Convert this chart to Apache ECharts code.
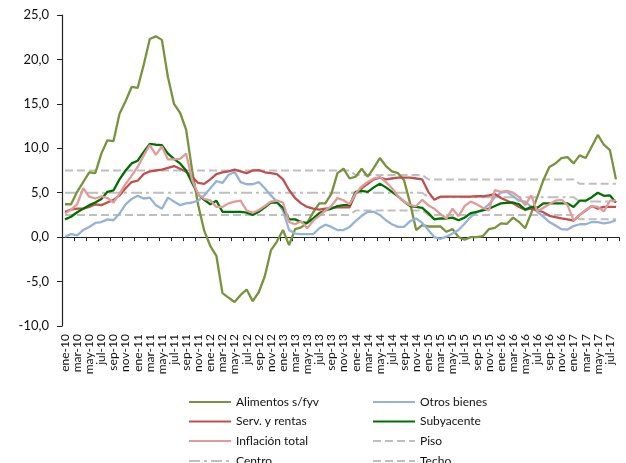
<!DOCTYPE html>
<html>
<head>
<meta charset="utf-8">
<script src="https://cdn.jsdelivr.net/npm/echarts@6/dist/echarts.min.js"></script>
<style>
html,body{margin:0;padding:0;background:#fff;}
#c{width:626px;height:463px;}
</style>
</head>
<body>
<div id="c"></div>
<script>
var monthNames = ['ene','feb','mar','abr','may','jun','jul','ago','sep','oct','nov','dic'];
var years = ['10','11','12','13','14','15','16','17'];
var lastMonthOf2017 = 8; // ene-17 .. ago-17
var categories = [];
years.forEach(function(y, yi){
  var n = (yi === years.length - 1) ? lastMonthOf2017 : 12;
  for (var m = 0; m < n; m++) categories.push(monthNames[m] + '-' + y);
});

var alimentos = [3.7,3.7,5.1,6.2,7.3,7.2,9.4,10.9,10.8,13.9,15.3,16.9,16.8,19.4,22.3,22.6,22.2,18.0,15.0,14.0,12.1,7.5,3.6,0.7,-1.0,-2.1,-6.3,-6.8,-7.3,-6.5,-5.9,-7.2,-6.2,-4.4,-1.5,-0.5,0.8,-0.9,0.9,1.1,1.6,2.8,3.8,3.8,4.9,7.2,7.7,6.6,6.8,7.7,6.8,7.8,8.9,8.0,7.4,7.2,6.4,3.8,0.8,1.35,1.2,1.2,1.2,0.6,0.9,0.0,-0.3,0.0,0.0,0.1,0.9,1.05,1.55,1.5,2.2,1.7,1.0,2.7,4.5,6.4,7.9,8.3,8.9,9.0,8.3,9.2,8.9,10.2,11.5,10.4,9.8,6.5];
var otrosBienes = [0.05,0.35,0.2,0.8,1.15,1.6,1.7,2.0,1.9,2.65,3.7,4.3,4.65,4.35,4.45,3.6,3.2,4.45,4.0,3.6,3.8,3.9,4.1,4.7,5.5,6.3,6.1,7.0,7.35,6.2,5.95,5.95,6.2,5.5,4.7,4.0,3.0,0.8,0.4,0.35,0.35,0.35,1.0,1.4,1.15,0.8,0.8,1.15,1.8,2.4,2.85,2.85,2.5,1.9,1.45,1.15,1.15,1.8,2.1,1.6,0.8,0.0,-0.2,0.05,0.4,0.8,1.5,2.3,2.8,3.1,3.7,4.5,5.0,5.1,4.6,4.1,4.0,3.4,2.85,2.3,1.7,1.3,0.9,0.85,1.25,1.45,1.45,1.7,1.7,1.55,1.65,1.9];
var servRentas = [2.85,3.1,3.2,3.2,3.4,3.7,3.6,3.9,4.2,4.7,5.5,6.2,6.35,7.1,7.4,7.5,7.6,7.8,8.0,7.7,7.35,6.8,6.1,6.0,6.5,7.1,7.3,7.4,7.6,7.4,7.2,7.5,7.55,7.3,7.2,7.1,6.5,5.3,4.4,3.8,3.4,3.2,3.1,3.2,3.3,3.35,3.35,3.35,4.9,5.5,6.0,6.5,6.7,6.5,6.6,6.7,6.7,6.7,6.6,6.5,5.1,4.2,4.55,4.55,4.55,4.55,4.55,4.55,4.6,4.6,4.7,4.85,4.4,4.1,3.8,3.4,3.1,3.2,3.05,2.8,2.4,2.25,2.1,2.0,1.85,2.5,3.0,3.5,3.2,3.4,3.4,3.4];
var subyacente = [2.0,2.3,2.8,3.2,3.6,3.9,4.3,5.1,5.25,6.5,7.5,8.3,8.6,9.6,10.5,10.4,10.35,9.4,8.8,8.3,7.5,6.1,4.8,4.2,3.7,4.1,2.85,2.85,2.85,2.85,2.75,2.5,2.85,3.35,3.9,3.9,3.3,2.0,2.0,1.7,1.6,2.1,2.7,3.0,3.2,3.5,3.6,3.6,5.1,5.2,5.1,5.6,6.0,5.6,5.1,4.6,4.0,3.5,3.4,3.3,2.7,2.0,2.1,2.1,2.2,1.9,2.2,2.7,2.85,3.0,3.2,3.5,3.8,3.85,3.9,3.7,3.1,3.4,3.3,3.8,3.8,3.8,3.8,3.8,3.4,4.1,4.1,4.5,5.0,4.65,4.7,3.9];
var inflacionTotal = [2.65,3.1,3.7,5.5,4.55,4.35,4.6,4.4,3.9,4.9,6.0,6.9,7.9,9.2,10.35,9.25,10.2,8.75,8.75,8.8,9.4,6.4,4.8,4.3,4.15,3.4,3.4,3.8,4.0,4.1,3.0,2.75,3.05,3.5,4.0,4.1,3.9,1.7,1.45,1.8,1.0,1.85,2.4,3.0,3.5,4.4,4.15,3.7,4.9,5.7,6.2,6.6,6.75,6.2,5.5,4.6,4.0,3.6,3.5,4.2,3.6,3.2,2.6,2.1,3.2,2.35,3.5,4.0,3.7,3.3,3.0,5.3,5.1,5.2,5.0,4.5,3.6,4.7,2.9,3.3,3.7,4.1,4.2,3.6,1.9,2.5,3.05,3.5,3.4,2.9,4.1,4.1];

// Target band: values per period (2010-2013, 2014, 2015-2016, 2017)
var periodMonths = [48, 12, 25, 7];
var pisoByPeriod = [2.5, 3.0, 2.5, 2.0];
var centroByPeriod = [5.0, 5.0, 4.5, 4.0];
var techoByPeriod = [7.5, 7.0, 6.5, 6.0];
function expand(vals){
  var out = [];
  periodMonths.forEach(function(n, k){ for (var j = 0; j < n; j++) out.push(vals[k]); });
  return out;
}
var piso = expand(pisoByPeriod);
var centro = expand(centroByPeriod);
var techo = expand(techoByPeriod);

var yTicks = {min: -10, max: 25, interval: 5};

var FONT = 'Lato';
function mainLine(name, data, color){
  return {name: name, type: 'line', data: data, symbol: 'none', z: 3,
    lineStyle: {color: color, width: 2.3}, itemStyle: {color: color}};
}
function refLine(name, data, dash){
  return {name: name, type: 'line', data: data, symbol: 'none', z: 2,
    lineStyle: {color: '#BFBFBF', width: 2, type: dash}, itemStyle: {color: '#BFBFBF'}};
}

var legendText = {fontFamily: FONT, fontSize: 12, color: '#111'};
var legendLayout = [
  ['Alimentos s/fyv', 188, 396], ['Otros bienes', 372, 396],
  ['Serv. y rentas', 188, 415.5], ['Subyacente', 372, 415.5],
  ['Inflación total', 188, 435], ['Piso', 372, 435],
  ['Centro', 188, 455], ['Techo', 372, 455]
];
var legends = legendLayout.map(function(L){
  return {orient: 'horizontal', left: L[1], top: L[2], itemWidth: 42, itemHeight: 14,
    selectedMode: false, textStyle: legendText, itemStyle: {opacity: 0},
    padding: 0, data: [L[0]]};
});

var chart = echarts.init(document.getElementById('c'), null, {renderer: 'canvas'});
chart.setOption({
  animation: false,
  backgroundColor: '#fff',
  grid: {left: 62, right: 7, top: 15, bottom: 137, containLabel: false},
  legend: legends,
  xAxis: [
    {type: 'category', data: categories, position: 'bottom', boundaryGap: true,
     axisLine: {show: false, onZero: false}, axisTick: {show: false},
     axisLabel: {interval: 1, rotate: 90, margin: 8, fontFamily: FONT, fontSize: 12, color: '#111'},
     splitLine: {show: false}},
    {type: 'category', data: categories, position: 'bottom', boundaryGap: true,
     axisLine: {show: true, onZero: true, lineStyle: {color: '#222', width: 1.2}},
     axisTick: {show: true, interval: 1, length: 4, lineStyle: {color: '#222', width: 1}},
     axisLabel: {show: false}, splitLine: {show: false}}
  ],
  yAxis: {type: 'value', min: yTicks.min, max: yTicks.max, interval: yTicks.interval,
    axisLine: {show: true, lineStyle: {color: '#222', width: 1.2}},
    axisTick: {show: true, length: 5, lineStyle: {color: '#222'}},
    splitLine: {show: false},
    axisLabel: {margin: 13, fontFamily: FONT, fontSize: 13, color: '#111',
      formatter: function(v){ return v.toFixed(1).replace('.', ','); }}},
  series: [
    refLine('Piso', piso, [8, 4]),
    refLine('Centro', centro, [11, 4, 3, 4]),
    refLine('Techo', techo, [8, 4]),
    mainLine('Alimentos s/fyv', alimentos, '#77933C'),
    mainLine('Otros bienes', otrosBienes, '#95B3D7'),
    mainLine('Serv. y rentas', servRentas, '#C0504D'),
    mainLine('Subyacente', subyacente, '#007000'),
    mainLine('Inflación total', inflacionTotal, '#E19B9B')
  ]
});
</script>
</body>
</html>
